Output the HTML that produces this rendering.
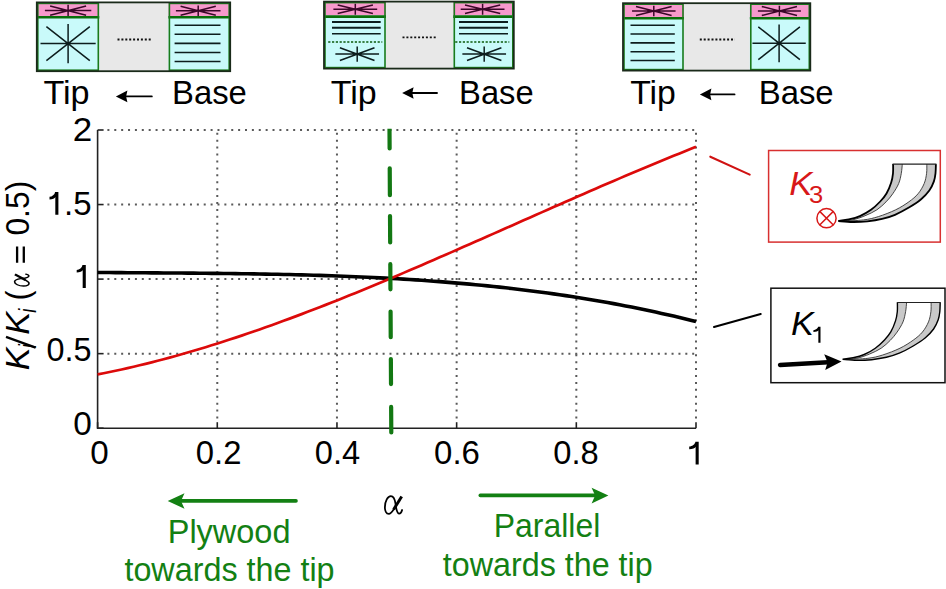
<!DOCTYPE html>
<html><head><meta charset="utf-8"><title>Figure</title>
<style>html,body{margin:0;padding:0;background:#fff;}body{width:946px;height:589px;overflow:hidden;font-family:"Liberation Sans",sans-serif;}svg{display:block;}</style>
</head><body>
<svg width="946" height="589" viewBox="0 0 946 589">
<defs><clipPath id="gclip"><rect x="380" y="128.8" width="20" height="310"/></clipPath></defs>
<rect width="946" height="589" fill="#fff"/>
<rect x="36.8" y="2.4" width="193.4" height="68.8" fill="#e8e8e8"/><rect x="36.8" y="2.4" width="62.5" height="68.8" fill="#c9fafa"/><rect x="36.8" y="2.4" width="62.5" height="13.6" fill="#f799cc"/><path d="M44.9 10.6H91.3M68.1 4.8V16.4M50.1 5.9L86.1 15.3M50.1 15.3L86.1 5.9" stroke="#3a0828" stroke-width="1.5" fill="none"/><path d="M40.5 43.6H95.7M68.1 24V63.2M46.4 26.6L89.8 60.6M46.4 60.6L89.8 26.6" stroke="#0d1d1d" stroke-width="1.5" fill="none"/><line x1="36.8" y1="17.3" x2="99.3" y2="17.3" stroke="#0a6e0a" stroke-width="2.6"/><rect x="37.8" y="3.4" width="60.5" height="66.8" fill="none" stroke="#1b7a1b" stroke-width="1.6"/><rect x="168.4" y="2.4" width="61.8" height="68.8" fill="#c9fafa"/><rect x="168.4" y="2.4" width="61.8" height="13.6" fill="#f799cc"/><path d="M175.9 10.8H220.5M198.2 5.4V16.2M180.6 6.3L215.8 15.3M180.6 15.3L215.8 6.3" stroke="#3a0828" stroke-width="1.5" fill="none"/><line x1="174.6" y1="25.2" x2="220.5" y2="25.2" stroke="#0d1d1d" stroke-width="1.6"/><line x1="174.6" y1="34.28" x2="220.5" y2="34.28" stroke="#0d1d1d" stroke-width="1.6"/><line x1="174.6" y1="43.36" x2="220.5" y2="43.36" stroke="#0d1d1d" stroke-width="1.6"/><line x1="174.6" y1="52.44" x2="220.5" y2="52.44" stroke="#0d1d1d" stroke-width="1.6"/><line x1="174.6" y1="61.52" x2="220.5" y2="61.52" stroke="#0d1d1d" stroke-width="1.6"/><line x1="168.4" y1="17.3" x2="230.2" y2="17.3" stroke="#0a6e0a" stroke-width="2.6"/><rect x="169.4" y="3.4" width="59.8" height="66.8" fill="none" stroke="#1b7a1b" stroke-width="1.6"/><rect x="36.8" y="2.4" width="193.4" height="68.8" fill="none" stroke="#1a2a1a" stroke-width="1.8"/>
<rect x="324" y="1.6" width="189.8" height="67" fill="#e8e8e8"/><rect x="324" y="1.6" width="62" height="67" fill="#c9fafa"/><rect x="324" y="1.6" width="62" height="13.7" fill="#f799cc"/><path d="M333.4 9.2H377.2M355.3 3.7V14.7M337.7 4.9L372.9 13.5M337.7 13.5L372.9 4.9" stroke="#3a0828" stroke-width="1.5" fill="none"/><line x1="332" y1="21.9" x2="380.7" y2="21.9" stroke="#0d1d1d" stroke-width="2.0"/><line x1="332" y1="27.8" x2="380.7" y2="27.8" stroke="#0d1d1d" stroke-width="2.0"/><line x1="332" y1="33.7" x2="380.7" y2="33.7" stroke="#0d1d1d" stroke-width="1.5"/><line x1="328.2" y1="42" x2="382.3" y2="42" stroke="#0b5a0b" stroke-width="1.5" stroke-dasharray="2.2 1.6"/><path d="M335.35 54.1H379.05M357.2 46.45V61.75M339.9 47.7L374.5 60.5M339.9 60.5L374.5 47.7" stroke="#0d1d1d" stroke-width="1.5" fill="none"/><line x1="324" y1="16.6" x2="386" y2="16.6" stroke="#0a6e0a" stroke-width="2.6"/><rect x="325" y="2.6" width="60" height="65" fill="none" stroke="#1b7a1b" stroke-width="1.6"/><rect x="453.3" y="1.6" width="60.5" height="67" fill="#c9fafa"/><rect x="453.3" y="1.6" width="60.5" height="13.7" fill="#f799cc"/><path d="M460.7 9.2H504.5M482.6 3.7V14.7M465 4.9L500.2 13.5M465 13.5L500.2 4.9" stroke="#3a0828" stroke-width="1.5" fill="none"/><line x1="459" y1="21.9" x2="508" y2="21.9" stroke="#0d1d1d" stroke-width="2.0"/><line x1="459" y1="27.8" x2="508" y2="27.8" stroke="#0d1d1d" stroke-width="2.0"/><line x1="459" y1="33.7" x2="508" y2="33.7" stroke="#0d1d1d" stroke-width="1.5"/><line x1="455.2" y1="42" x2="509.3" y2="42" stroke="#0b5a0b" stroke-width="1.5" stroke-dasharray="2.2 1.6"/><path d="M462.35 54.1H506.05M484.2 46.45V61.75M467 47.7L501.4 60.5M467 60.5L501.4 47.7" stroke="#0d1d1d" stroke-width="1.5" fill="none"/><line x1="453.3" y1="16.6" x2="513.8" y2="16.6" stroke="#0a6e0a" stroke-width="2.6"/><rect x="454.3" y="2.6" width="58.5" height="65" fill="none" stroke="#1b7a1b" stroke-width="1.6"/><rect x="324" y="1.6" width="189.8" height="67" fill="none" stroke="#1a2a1a" stroke-width="1.8"/>
<rect x="623" y="3.2" width="187.3" height="67.4" fill="#e8e8e8"/><rect x="623" y="3.2" width="61" height="67.4" fill="#c9fafa"/><rect x="623" y="3.2" width="61" height="13.8" fill="#f799cc"/><path d="M632.05 11H675.55M653.8 5.8V16.2M636 6.55L671.6 15.45M636 15.45L671.6 6.55" stroke="#3a0828" stroke-width="1.5" fill="none"/><line x1="630.5" y1="25.2" x2="674.8" y2="25.2" stroke="#0d1d1d" stroke-width="1.6"/><line x1="630.5" y1="34.03" x2="674.8" y2="34.03" stroke="#0d1d1d" stroke-width="1.6"/><line x1="630.5" y1="42.86" x2="674.8" y2="42.86" stroke="#0d1d1d" stroke-width="1.6"/><line x1="630.5" y1="51.69" x2="674.8" y2="51.69" stroke="#0d1d1d" stroke-width="1.6"/><line x1="630.5" y1="60.52" x2="674.8" y2="60.52" stroke="#0d1d1d" stroke-width="1.6"/><line x1="623" y1="18.3" x2="684" y2="18.3" stroke="#0a6e0a" stroke-width="2.6"/><rect x="624" y="4.2" width="59" height="65.4" fill="none" stroke="#1b7a1b" stroke-width="1.6"/><rect x="749.8" y="3.2" width="60.5" height="67.4" fill="#c9fafa"/><rect x="749.8" y="3.2" width="60.5" height="13.8" fill="#f799cc"/><path d="M757.9 11H800.9M779.4 5.8V16.2M761.8 6.55L797 15.45M761.8 15.45L797 6.55" stroke="#3a0828" stroke-width="1.5" fill="none"/><path d="M752.45 43.3H805.75M779.1 24.4V62.2M758.3 26.9L799.9 59.7M758.3 59.7L799.9 26.9" stroke="#0d1d1d" stroke-width="1.5" fill="none"/><line x1="749.8" y1="18.3" x2="810.3" y2="18.3" stroke="#0a6e0a" stroke-width="2.6"/><rect x="750.8" y="4.2" width="58.5" height="65.4" fill="none" stroke="#1b7a1b" stroke-width="1.6"/><rect x="623" y="3.2" width="187.3" height="67.4" fill="none" stroke="#1a2a1a" stroke-width="1.8"/>
<line x1="117.5" y1="39.5" x2="152" y2="39.5" stroke="#111" stroke-width="1.8" stroke-dasharray="2 1.9"/>
<line x1="402.5" y1="37.3" x2="437.5" y2="37.3" stroke="#111" stroke-width="1.8" stroke-dasharray="2 1.9"/>
<line x1="699.8" y1="39.5" x2="735" y2="39.5" stroke="#111" stroke-width="1.8" stroke-dasharray="2 1.9"/>
<text transform="translate(43.43 103.9) scale(1.0233 1)" font-family="Liberation Sans, sans-serif" font-size="33.4" fill="#000">Tip</text>
<text transform="translate(172.1 103.7) scale(0.9823 1)" font-family="Liberation Sans, sans-serif" font-size="33.4" fill="#000">Base</text>
<text transform="translate(330.64 103.9) scale(1.0186 1)" font-family="Liberation Sans, sans-serif" font-size="33.4" fill="#000">Tip</text>
<text transform="translate(459.11 103.7) scale(0.9795 1)" font-family="Liberation Sans, sans-serif" font-size="33.4" fill="#000">Base</text>
<text transform="translate(630.24 104) scale(1.0116 1)" font-family="Liberation Sans, sans-serif" font-size="33.4" fill="#000">Tip</text>
<text transform="translate(758.69 103.7) scale(0.9850 1)" font-family="Liberation Sans, sans-serif" font-size="33.4" fill="#000">Base</text>
<path d="M115.9 96.4 L127.4 90.6 L126.1 96.4 L127.4 102.2 Z" fill="#000"/><line x1="124.9" y1="96.4" x2="151.8" y2="96.4" stroke="#000" stroke-width="1.9" stroke-linecap="round"/>
<path d="M402.1 93 L413.6 87.2 L412.3 93 L413.6 98.8 Z" fill="#000"/><line x1="411.1" y1="93" x2="437" y2="93" stroke="#000" stroke-width="1.9" stroke-linecap="round"/>
<path d="M699.9 94.4 L711.4 88.6 L710.1 94.4 L711.4 100.2 Z" fill="#000"/><line x1="708.9" y1="94.4" x2="734.5" y2="94.4" stroke="#000" stroke-width="1.9" stroke-linecap="round"/>
<line x1="107.4" y1="353.65" x2="697" y2="353.65" stroke="#5a5a5a" stroke-width="2" stroke-dasharray="2 4.88"/>
<line x1="107.4" y1="279.1" x2="697" y2="279.1" stroke="#5a5a5a" stroke-width="2" stroke-dasharray="2 4.88"/>
<line x1="107.4" y1="204.55" x2="697" y2="204.55" stroke="#5a5a5a" stroke-width="2" stroke-dasharray="2 4.88"/>
<line x1="107.4" y1="130" x2="697" y2="130" stroke="#5a5a5a" stroke-width="2" stroke-dasharray="2 4.88"/>
<line x1="217.28" y1="418.5" x2="217.28" y2="129" stroke="#5a5a5a" stroke-width="2" stroke-dasharray="2 4.92"/>
<line x1="336.96" y1="418.5" x2="336.96" y2="129" stroke="#5a5a5a" stroke-width="2" stroke-dasharray="2 4.92"/>
<line x1="456.64" y1="418.5" x2="456.64" y2="129" stroke="#5a5a5a" stroke-width="2" stroke-dasharray="2 4.92"/>
<line x1="576.32" y1="418.5" x2="576.32" y2="129" stroke="#5a5a5a" stroke-width="2" stroke-dasharray="2 4.92"/>
<line x1="696" y1="418.5" x2="696" y2="129" stroke="#5a5a5a" stroke-width="2" stroke-dasharray="2 4.92"/>
<path d="M97.6 130 V428.2 H696" fill="none" stroke="#222" stroke-width="1.6"/>
<line x1="97.6" y1="428.2" x2="103.6" y2="428.2" stroke="#222" stroke-width="1.6"/>
<line x1="97.6" y1="353.65" x2="103.6" y2="353.65" stroke="#222" stroke-width="1.6"/>
<line x1="97.6" y1="279.1" x2="103.6" y2="279.1" stroke="#222" stroke-width="1.6"/>
<line x1="97.6" y1="204.55" x2="103.6" y2="204.55" stroke="#222" stroke-width="1.6"/>
<line x1="97.6" y1="130" x2="103.6" y2="130" stroke="#222" stroke-width="1.6"/>
<line x1="97.6" y1="428.2" x2="97.6" y2="422.2" stroke="#222" stroke-width="1.6"/>
<line x1="217.28" y1="428.2" x2="217.28" y2="422.2" stroke="#222" stroke-width="1.6"/>
<line x1="336.96" y1="428.2" x2="336.96" y2="422.2" stroke="#222" stroke-width="1.6"/>
<line x1="456.64" y1="428.2" x2="456.64" y2="422.2" stroke="#222" stroke-width="1.6"/>
<line x1="576.32" y1="428.2" x2="576.32" y2="422.2" stroke="#222" stroke-width="1.6"/>
<line x1="696" y1="428.2" x2="696" y2="422.2" stroke="#222" stroke-width="1.6"/>
<text transform="translate(72.8 141.1) scale(1.0492 1)" font-family="Liberation Sans, sans-serif" font-size="33.4" fill="#000">2</text>
<text transform="translate(64.04 214.8) scale(0.9872 1)" font-family="Liberation Sans, sans-serif" font-size="33.4" fill="#000">.5</text>
<text transform="translate(46.59 361.4) scale(0.9691 1)" font-family="Liberation Sans, sans-serif" font-size="33.4" fill="#000">0.5</text>
<text transform="translate(73.25 435.3) scale(1.0000 1)" font-family="Liberation Sans, sans-serif" font-size="33.4" fill="#000">0</text>
<text transform="translate(90.16 464.2) scale(0.9937 1)" font-family="Liberation Sans, sans-serif" font-size="33.4" fill="#000">0</text>
<text transform="translate(195.77 464.2) scale(0.9839 1)" font-family="Liberation Sans, sans-serif" font-size="33.4" fill="#000">0.2</text>
<text transform="translate(314.78 464.2) scale(0.9763 1)" font-family="Liberation Sans, sans-serif" font-size="33.4" fill="#000">0.4</text>
<text transform="translate(434.07 464.2) scale(0.9874 1)" font-family="Liberation Sans, sans-serif" font-size="33.4" fill="#000">0.6</text>
<text transform="translate(553.28 464.2) scale(0.9783 1)" font-family="Liberation Sans, sans-serif" font-size="33.4" fill="#000">0.8</text>
<path d="M58.4 214.8 L58.4 191.9 L55.11 191.9 C54.71 194.65 52.11 196.48 49.5 196.82 L49.5 199.46 C52.4 199.34 55.01 198.54 55.31 196.94 L55.31 214.8 Z" fill="#000"/>
<path d="M85.8 288.1 L85.8 265 L82.48 265 C82.08 267.77 79.39 269.62 76.7 269.97 L76.7 272.62 C79.69 272.51 82.38 271.7 82.68 270.08 L82.68 288.1 Z" fill="#000"/>
<path d="M698.7 464.5 L698.7 441.7 L695.42 441.7 C695.02 444.44 692.09 446.26 689.2 446.6 L689.2 449.22 C692.41 449.11 695.32 448.31 695.62 446.72 L695.62 464.5 Z" fill="#000"/>
<polyline points="97.6,272.46 103.6,272.51 109.6,272.56 115.6,272.61 121.6,272.65 127.6,272.69 133.6,272.73 139.6,272.77 145.6,272.81 151.6,272.85 157.6,272.89 163.6,272.93 169.6,272.98 175.6,273.02 181.6,273.06 187.6,273.11 193.6,273.16 199.6,273.21 205.6,273.27 211.6,273.33 217.6,273.39 223.6,273.46 229.6,273.53 235.6,273.61 241.6,273.69 247.6,273.78 253.6,273.87 259.6,273.97 265.6,274.08 271.6,274.19 277.6,274.31 283.6,274.44 289.6,274.57 295.6,274.72 301.6,274.87 307.6,275.04 313.6,275.21 319.6,275.39 325.6,275.58 331.6,275.78 337.6,276.00 343.6,276.22 349.6,276.46 355.6,276.71 361.6,276.97 367.6,277.24 373.6,277.53 379.6,277.83 385.6,278.14 391.6,278.47 397.6,278.81 403.6,279.16 409.6,279.53 415.6,279.92 421.6,280.32 427.6,280.74 433.6,281.18 439.6,281.63 445.6,282.10 451.6,282.59 457.6,283.09 463.6,283.61 469.6,284.15 475.6,284.71 481.6,285.29 487.6,285.89 493.6,286.51 499.6,287.15 505.6,287.81 511.6,288.49 517.6,289.20 523.6,289.92 529.6,290.67 535.6,291.44 541.6,292.23 547.6,293.04 553.6,293.88 559.6,294.74 565.6,295.63 571.6,296.54 577.6,297.48 583.6,298.44 589.6,299.42 595.6,300.44 601.6,301.48 607.6,302.54 613.6,303.63 619.6,304.75 625.6,305.90 631.6,307.08 637.6,308.28 643.6,309.52 649.6,310.78 655.6,312.07 661.6,313.39 667.6,314.74 673.6,316.12 679.6,317.54 685.6,318.98 691.6,320.46 696.0,321.56" fill="none" stroke="#000" stroke-width="3.6" stroke-linejoin="round"/>
<polyline points="97.6,374.44 103.6,373.26 109.6,372.03 115.6,370.77 121.6,369.46 127.6,368.12 133.6,366.73 139.6,365.30 145.6,363.84 151.6,362.33 157.6,360.79 163.6,359.21 169.6,357.60 175.6,355.95 181.6,354.26 187.6,352.54 193.6,350.79 199.6,349.00 205.6,347.18 211.6,345.33 217.6,343.44 223.6,341.53 229.6,339.58 235.6,337.61 241.6,335.60 247.6,333.57 253.6,331.51 259.6,329.43 265.6,327.32 271.6,325.18 277.6,323.01 283.6,320.82 289.6,318.61 295.6,316.38 301.6,314.12 307.6,311.84 313.6,309.54 319.6,307.22 325.6,304.87 331.6,302.51 337.6,300.13 343.6,297.73 349.6,295.31 355.6,292.88 361.6,290.43 367.6,287.96 373.6,285.48 379.6,282.98 385.6,280.47 391.6,277.95 397.6,275.42 403.6,272.87 409.6,270.31 415.6,267.74 421.6,265.16 427.6,262.57 433.6,259.97 439.6,257.36 445.6,254.75 451.6,252.12 457.6,249.49 463.6,246.86 469.6,244.22 475.6,241.58 481.6,238.93 487.6,236.28 493.6,233.62 499.6,230.97 505.6,228.31 511.6,225.65 517.6,222.99 523.6,220.33 529.6,217.68 535.6,215.02 541.6,212.37 547.6,209.72 553.6,207.07 559.6,204.43 565.6,201.79 571.6,199.16 577.6,196.53 583.6,193.91 589.6,191.30 595.6,188.69 601.6,186.10 607.6,183.51 613.6,180.93 619.6,178.37 625.6,175.81 631.6,173.27 637.6,170.74 643.6,168.22 649.6,165.71 655.6,163.22 661.6,160.74 667.6,158.28 673.6,155.84 679.6,153.41 685.6,151.00 691.6,148.61 696.0,146.86" fill="none" stroke="#dc0a0a" stroke-width="2.7" stroke-linejoin="round"/>
<path d="M389.48 126.1L389.62 148.5M389.73 168.3L389.89 195.2M390.01 216.1L390.17 242.5M390.3 264.2L390.45 289.3M390.58 311.6L390.73 337.2M390.86 359.1L391.01 384.1M391.14 406.9L391.29 432.4" stroke="#137813" stroke-width="4.2" stroke-linecap="round" fill="none" clip-path="url(#gclip)"/>
<line x1="710.3" y1="156.7" x2="749.7" y2="174.6" stroke="#d01212" stroke-width="2.1" stroke-linecap="round"/>
<line x1="714" y1="326.9" x2="760.7" y2="314.1" stroke="#000" stroke-width="2.1" stroke-linecap="round"/>
<rect x="768.6" y="150.5" width="171.7" height="91.6" fill="none" stroke="#d83030" stroke-width="1.5"/>
<rect x="770.9" y="288.2" width="174.1" height="94.5" fill="none" stroke="#111" stroke-width="1.5"/>
<g transform="translate(0 0)"><path d="M838.4 220.9 C840.13 220.65 845.22 220.2 848.8 219.4 C852.38 218.6 856.2 217.7 859.9 216.1 C863.6 214.5 867.62 212.23 871 209.8 C874.38 207.37 877.62 204.22 880.2 201.5 C882.78 198.78 884.67 196.67 886.5 193.5 C888.33 190.33 890.12 185.87 891.2 182.5 C892.28 179.13 892.68 176.37 893 173.3 C893.32 170.23 893.08 165.63 893.1 164.1 L935.9 164.1 L935.9 164.1 C935.83 165.63 935.83 170.42 935.5 173.3 C935.17 176.18 934.93 178.52 933.9 181.4 C932.87 184.28 931.43 187.62 929.3 190.6 C927.17 193.58 924.5 196.47 921.1 199.3 C917.7 202.13 913.25 205.02 908.9 207.6 C904.55 210.18 899.47 212.92 895 214.8 C890.53 216.68 886.72 217.82 882.1 218.9 C877.48 219.98 872.23 220.78 867.3 221.3 C862.37 221.82 857.32 222.05 852.5 222 C847.68 221.95 840.75 221.17 838.4 221 Z" fill="#fff"/><path d="M838.4 220.9 C840.13 220.65 845.22 220.2 848.8 219.4 C852.38 218.6 856.2 217.7 859.9 216.1 C863.6 214.5 867.62 212.23 871 209.8 C874.38 207.37 877.62 204.22 880.2 201.5 C882.78 198.78 884.67 196.67 886.5 193.5 C888.33 190.33 890.12 185.87 891.2 182.5 C892.28 179.13 892.68 176.37 893 173.3 C893.32 170.23 893.08 165.63 893.1 164.1 L902.3 164.1 L902.3 164.1 C902.13 165.63 901.9 170.07 901.3 173.3 C900.7 176.53 900.12 180.1 898.7 183.5 C897.28 186.9 894.92 190.63 892.8 193.7 C890.68 196.77 888.65 199.22 886 201.9 C883.35 204.58 880.38 207.5 876.9 209.8 C873.42 212.1 869.17 214.02 865.1 215.7 C861.03 217.38 856.68 219.02 852.5 219.9 C848.32 220.78 842.08 220.82 840 221 Z" fill="#c9c9c9"/><path d="M842 221.2 C845.6 220.98 857.53 220.67 863.6 219.9 C869.67 219.13 873.05 218.28 878.4 216.6 C883.75 214.92 890.62 212.27 895.7 209.8 C900.78 207.33 905.17 204.48 908.9 201.8 C912.63 199.12 915.55 196.75 918.1 193.7 C920.65 190.65 922.78 186.9 924.2 183.5 C925.62 180.1 926.17 176.53 926.6 173.3 C927.03 170.07 926.77 165.63 926.8 164.1 L935.9 164.1 L935.9 164.1 C935.83 165.63 935.83 170.42 935.5 173.3 C935.17 176.18 934.93 178.52 933.9 181.4 C932.87 184.28 931.43 187.62 929.3 190.6 C927.17 193.58 924.5 196.47 921.1 199.3 C917.7 202.13 913.25 205.02 908.9 207.6 C904.55 210.18 899.47 212.92 895 214.8 C890.53 216.68 886.72 217.82 882.1 218.9 C877.48 219.98 872.23 220.78 867.3 221.3 C862.37 221.82 857.32 222.05 852.5 222 C847.68 221.95 840.75 221.17 838.4 221 Z" fill="#c9c9c9"/><path d="M840 221 C842.08 220.82 848.32 220.78 852.5 219.9 C856.68 219.02 861.03 217.38 865.1 215.7 C869.17 214.02 873.42 212.1 876.9 209.8 C880.38 207.5 883.35 204.58 886 201.9 C888.65 199.22 890.68 196.77 892.8 193.7 C894.92 190.63 897.28 186.9 898.7 183.5 C900.12 180.1 900.7 176.53 901.3 173.3 C901.9 170.07 902.13 165.63 902.3 164.1" fill="none" stroke="#333" stroke-width="0.9"/><path d="M842 221.2 C845.6 220.98 857.53 220.67 863.6 219.9 C869.67 219.13 873.05 218.28 878.4 216.6 C883.75 214.92 890.62 212.27 895.7 209.8 C900.78 207.33 905.17 204.48 908.9 201.8 C912.63 199.12 915.55 196.75 918.1 193.7 C920.65 190.65 922.78 186.9 924.2 183.5 C925.62 180.1 926.17 176.53 926.6 173.3 C927.03 170.07 926.77 165.63 926.8 164.1" fill="none" stroke="#333" stroke-width="0.9"/><path d="M838.4 220.9 C840.13 220.65 845.22 220.2 848.8 219.4 C852.38 218.6 856.2 217.7 859.9 216.1 C863.6 214.5 867.62 212.23 871 209.8 C874.38 207.37 877.62 204.22 880.2 201.5 C882.78 198.78 884.67 196.67 886.5 193.5 C888.33 190.33 890.12 185.87 891.2 182.5 C892.28 179.13 892.68 176.37 893 173.3 C893.32 170.23 893.08 165.63 893.1 164.1" fill="none" stroke="#000" stroke-width="1.8"/><path d="M838.4 221 C840.75 221.17 847.68 221.95 852.5 222 C857.32 222.05 862.37 221.82 867.3 221.3 C872.23 220.78 877.48 219.98 882.1 218.9 C886.72 217.82 890.53 216.68 895 214.8 C899.47 212.92 904.55 210.18 908.9 207.6 C913.25 205.02 917.7 202.13 921.1 199.3 C924.5 196.47 927.17 193.58 929.3 190.6 C931.43 187.62 932.87 184.28 933.9 181.4 C934.93 178.52 935.17 176.18 935.5 173.3 C935.83 170.42 935.83 165.63 935.9 164.1" fill="none" stroke="#000" stroke-width="1.8"/><path d="M892.6 164.1 H936.4" fill="none" stroke="#222" stroke-width="1.3"/></g>
<g transform="translate(4.3 138.4)"><path d="M838.4 220.9 C840.13 220.65 845.22 220.2 848.8 219.4 C852.38 218.6 856.2 217.7 859.9 216.1 C863.6 214.5 867.62 212.23 871 209.8 C874.38 207.37 877.62 204.22 880.2 201.5 C882.78 198.78 884.67 196.67 886.5 193.5 C888.33 190.33 890.12 185.87 891.2 182.5 C892.28 179.13 892.68 176.37 893 173.3 C893.32 170.23 893.08 165.63 893.1 164.1 L935.9 164.1 L935.9 164.1 C935.83 165.63 935.83 170.42 935.5 173.3 C935.17 176.18 934.93 178.52 933.9 181.4 C932.87 184.28 931.43 187.62 929.3 190.6 C927.17 193.58 924.5 196.47 921.1 199.3 C917.7 202.13 913.25 205.02 908.9 207.6 C904.55 210.18 899.47 212.92 895 214.8 C890.53 216.68 886.72 217.82 882.1 218.9 C877.48 219.98 872.23 220.78 867.3 221.3 C862.37 221.82 857.32 222.05 852.5 222 C847.68 221.95 840.75 221.17 838.4 221 Z" fill="#fff"/><path d="M838.4 220.9 C840.13 220.65 845.22 220.2 848.8 219.4 C852.38 218.6 856.2 217.7 859.9 216.1 C863.6 214.5 867.62 212.23 871 209.8 C874.38 207.37 877.62 204.22 880.2 201.5 C882.78 198.78 884.67 196.67 886.5 193.5 C888.33 190.33 890.12 185.87 891.2 182.5 C892.28 179.13 892.68 176.37 893 173.3 C893.32 170.23 893.08 165.63 893.1 164.1 L902.3 164.1 L902.3 164.1 C902.13 165.63 901.9 170.07 901.3 173.3 C900.7 176.53 900.12 180.1 898.7 183.5 C897.28 186.9 894.92 190.63 892.8 193.7 C890.68 196.77 888.65 199.22 886 201.9 C883.35 204.58 880.38 207.5 876.9 209.8 C873.42 212.1 869.17 214.02 865.1 215.7 C861.03 217.38 856.68 219.02 852.5 219.9 C848.32 220.78 842.08 220.82 840 221 Z" fill="#c9c9c9"/><path d="M842 221.2 C845.6 220.98 857.53 220.67 863.6 219.9 C869.67 219.13 873.05 218.28 878.4 216.6 C883.75 214.92 890.62 212.27 895.7 209.8 C900.78 207.33 905.17 204.48 908.9 201.8 C912.63 199.12 915.55 196.75 918.1 193.7 C920.65 190.65 922.78 186.9 924.2 183.5 C925.62 180.1 926.17 176.53 926.6 173.3 C927.03 170.07 926.77 165.63 926.8 164.1 L935.9 164.1 L935.9 164.1 C935.83 165.63 935.83 170.42 935.5 173.3 C935.17 176.18 934.93 178.52 933.9 181.4 C932.87 184.28 931.43 187.62 929.3 190.6 C927.17 193.58 924.5 196.47 921.1 199.3 C917.7 202.13 913.25 205.02 908.9 207.6 C904.55 210.18 899.47 212.92 895 214.8 C890.53 216.68 886.72 217.82 882.1 218.9 C877.48 219.98 872.23 220.78 867.3 221.3 C862.37 221.82 857.32 222.05 852.5 222 C847.68 221.95 840.75 221.17 838.4 221 Z" fill="#c9c9c9"/><path d="M840 221 C842.08 220.82 848.32 220.78 852.5 219.9 C856.68 219.02 861.03 217.38 865.1 215.7 C869.17 214.02 873.42 212.1 876.9 209.8 C880.38 207.5 883.35 204.58 886 201.9 C888.65 199.22 890.68 196.77 892.8 193.7 C894.92 190.63 897.28 186.9 898.7 183.5 C900.12 180.1 900.7 176.53 901.3 173.3 C901.9 170.07 902.13 165.63 902.3 164.1" fill="none" stroke="#333" stroke-width="0.9"/><path d="M842 221.2 C845.6 220.98 857.53 220.67 863.6 219.9 C869.67 219.13 873.05 218.28 878.4 216.6 C883.75 214.92 890.62 212.27 895.7 209.8 C900.78 207.33 905.17 204.48 908.9 201.8 C912.63 199.12 915.55 196.75 918.1 193.7 C920.65 190.65 922.78 186.9 924.2 183.5 C925.62 180.1 926.17 176.53 926.6 173.3 C927.03 170.07 926.77 165.63 926.8 164.1" fill="none" stroke="#333" stroke-width="0.9"/><path d="M838.4 220.9 C840.13 220.65 845.22 220.2 848.8 219.4 C852.38 218.6 856.2 217.7 859.9 216.1 C863.6 214.5 867.62 212.23 871 209.8 C874.38 207.37 877.62 204.22 880.2 201.5 C882.78 198.78 884.67 196.67 886.5 193.5 C888.33 190.33 890.12 185.87 891.2 182.5 C892.28 179.13 892.68 176.37 893 173.3 C893.32 170.23 893.08 165.63 893.1 164.1" fill="none" stroke="#000" stroke-width="1.4"/><path d="M838.4 221 C840.75 221.17 847.68 221.95 852.5 222 C857.32 222.05 862.37 221.82 867.3 221.3 C872.23 220.78 877.48 219.98 882.1 218.9 C886.72 217.82 890.53 216.68 895 214.8 C899.47 212.92 904.55 210.18 908.9 207.6 C913.25 205.02 917.7 202.13 921.1 199.3 C924.5 196.47 927.17 193.58 929.3 190.6 C931.43 187.62 932.87 184.28 933.9 181.4 C934.93 178.52 935.17 176.18 935.5 173.3 C935.83 170.42 935.83 165.63 935.9 164.1" fill="none" stroke="#000" stroke-width="1.4"/><path d="M892.6 164.1 H936.4" fill="none" stroke="#222" stroke-width="1.1"/></g>
<text transform="translate(789.16 194.7) scale(1.0369 1)" font-family="Liberation Sans, sans-serif" font-size="33.4" font-style="italic" fill="#d81818">K</text>
<text transform="translate(808.96 203.1) scale(1.0435 1)" font-family="Liberation Sans, sans-serif" font-size="24.5" fill="#d81818">3</text>
<circle cx="826.5" cy="218.2" r="9.6" fill="none" stroke="#d81818" stroke-width="1.5"/>
<path d="M819.7 211.4 L833.3 225 M833.3 211.4 L819.7 225" stroke="#d81818" stroke-width="1.5"/>
<text transform="translate(791.08 334.7) scale(1.0235 1)" font-family="Liberation Sans, sans-serif" font-size="33.4" font-style="italic" fill="#000">K</text>
<path d="M820.5 342.7 L820.5 326.8 L818.15 326.8 C817.75 328.71 815.63 329.98 813.4 330.22 L813.4 332.05 C815.88 331.97 818.05 331.41 818.35 330.3 L818.35 342.7 Z" fill="#000"/>
<line x1="780" y1="365" x2="828" y2="362.3" stroke="#000" stroke-width="4.4" stroke-linecap="round"/>
<path d="M841.5 361.4 L824.2 354.2 L827.6 362.2 L825.2 370 Z" fill="#000"/>
<g transform="translate(29 0) rotate(-90)"><text transform="translate(-370.22 0) scale(1.0235 1)" font-family="Liberation Sans, sans-serif" font-size="33.4" font-style="italic" fill="#000">K</text><text transform="translate(-347.89 7.3) scale(0.7619 1)" font-family="Liberation Sans, sans-serif" font-size="23.0" font-style="italic" fill="#000">i</text><text transform="translate(-334.63 0) scale(1.0324 1)" font-family="Liberation Sans, sans-serif" font-size="33.4" font-style="italic" fill="#000">K</text><text transform="translate(-312.7 7.3) scale(0.8000 1)" font-family="Liberation Sans, sans-serif" font-size="23.0" font-style="italic" fill="#000">i</text><text transform="translate(-300.17 0) scale(0.8800 1)" font-family="Liberation Sans, sans-serif" font-size="33.4" fill="#000">(</text><text transform="translate(-235.59 0) scale(0.9530 1)" font-family="Liberation Sans, sans-serif" font-size="33.4" fill="#000">0.5)</text><g transform="translate(-286 0) scale(0.6900 0.8100)" fill="none" stroke="#000" stroke-linecap="round"><path d="M8.9 -4.7 C6.9 -1.7 5.4 0 4 0 C1.2 0 0 -3.2 0 -6.7 C0 -12.7 2.9 -17.8 6 -17.8 C8.9 -17.8 10 -14.2 10.6 -10.2 C11.2 -6.2 11.7 -0.2 14.4 -0.2 C15.9 -0.2 16.7 -2.2 17.2 -3.9" stroke-width="2.0"/><path d="M16.8 -17.4 L8.7 -4.4" stroke-width="3.2" stroke-linecap="butt"/></g></g><line x1="6.0" y1="336.8" x2="35.6" y2="347.7" stroke="#000" stroke-width="2.3"/><path d="M17.1 246.6V262.7M23.8 246.6V262.7" stroke="#000" stroke-width="2.3"/>
<g transform="translate(384.9 513.9) scale(1.0000 1.0000)" fill="none" stroke="#000" stroke-linecap="round"><path d="M8.9 -4.7 C6.9 -1.7 5.4 0 4 0 C1.2 0 0 -3.2 0 -6.7 C0 -12.7 2.9 -17.8 6 -17.8 C8.9 -17.8 10 -14.2 10.6 -10.2 C11.2 -6.2 11.7 -0.2 14.4 -0.2 C15.9 -0.2 16.7 -2.2 17.2 -3.9" stroke-width="1.8"/><path d="M16.8 -17.4 L8.7 -4.4" stroke-width="2.9" stroke-linecap="butt"/></g>
<line x1="180" y1="500.9" x2="296" y2="500.9" stroke="#138013" stroke-width="3.6" stroke-linecap="round"/>
<path d="M167.7 500.9 L184.5 493.3 L181 500.9 L184.5 508.7 Z" fill="#138013"/>
<line x1="480.3" y1="495.4" x2="596" y2="495.4" stroke="#138013" stroke-width="3.6" stroke-linecap="round"/>
<path d="M608.4 495.4 L591.6 487.8 L595.1 495.4 L591.6 503.4 Z" fill="#138013"/>
<text transform="translate(167.72 542.8) scale(0.9730 1)" font-family="Liberation Sans, sans-serif" font-size="33.4" fill="#138013">Plywood</text>
<text transform="translate(124.42 581) scale(0.9677 1)" font-family="Liberation Sans, sans-serif" font-size="33.4" fill="#138013">towards the tip</text>
<text transform="translate(493.77 537.3) scale(0.9570 1)" font-family="Liberation Sans, sans-serif" font-size="33.4" fill="#138013">Parallel</text>
<text transform="translate(442.82 576.3) scale(0.9663 1)" font-family="Liberation Sans, sans-serif" font-size="33.4" fill="#138013">towards the tip</text>
</svg>
</body></html>
